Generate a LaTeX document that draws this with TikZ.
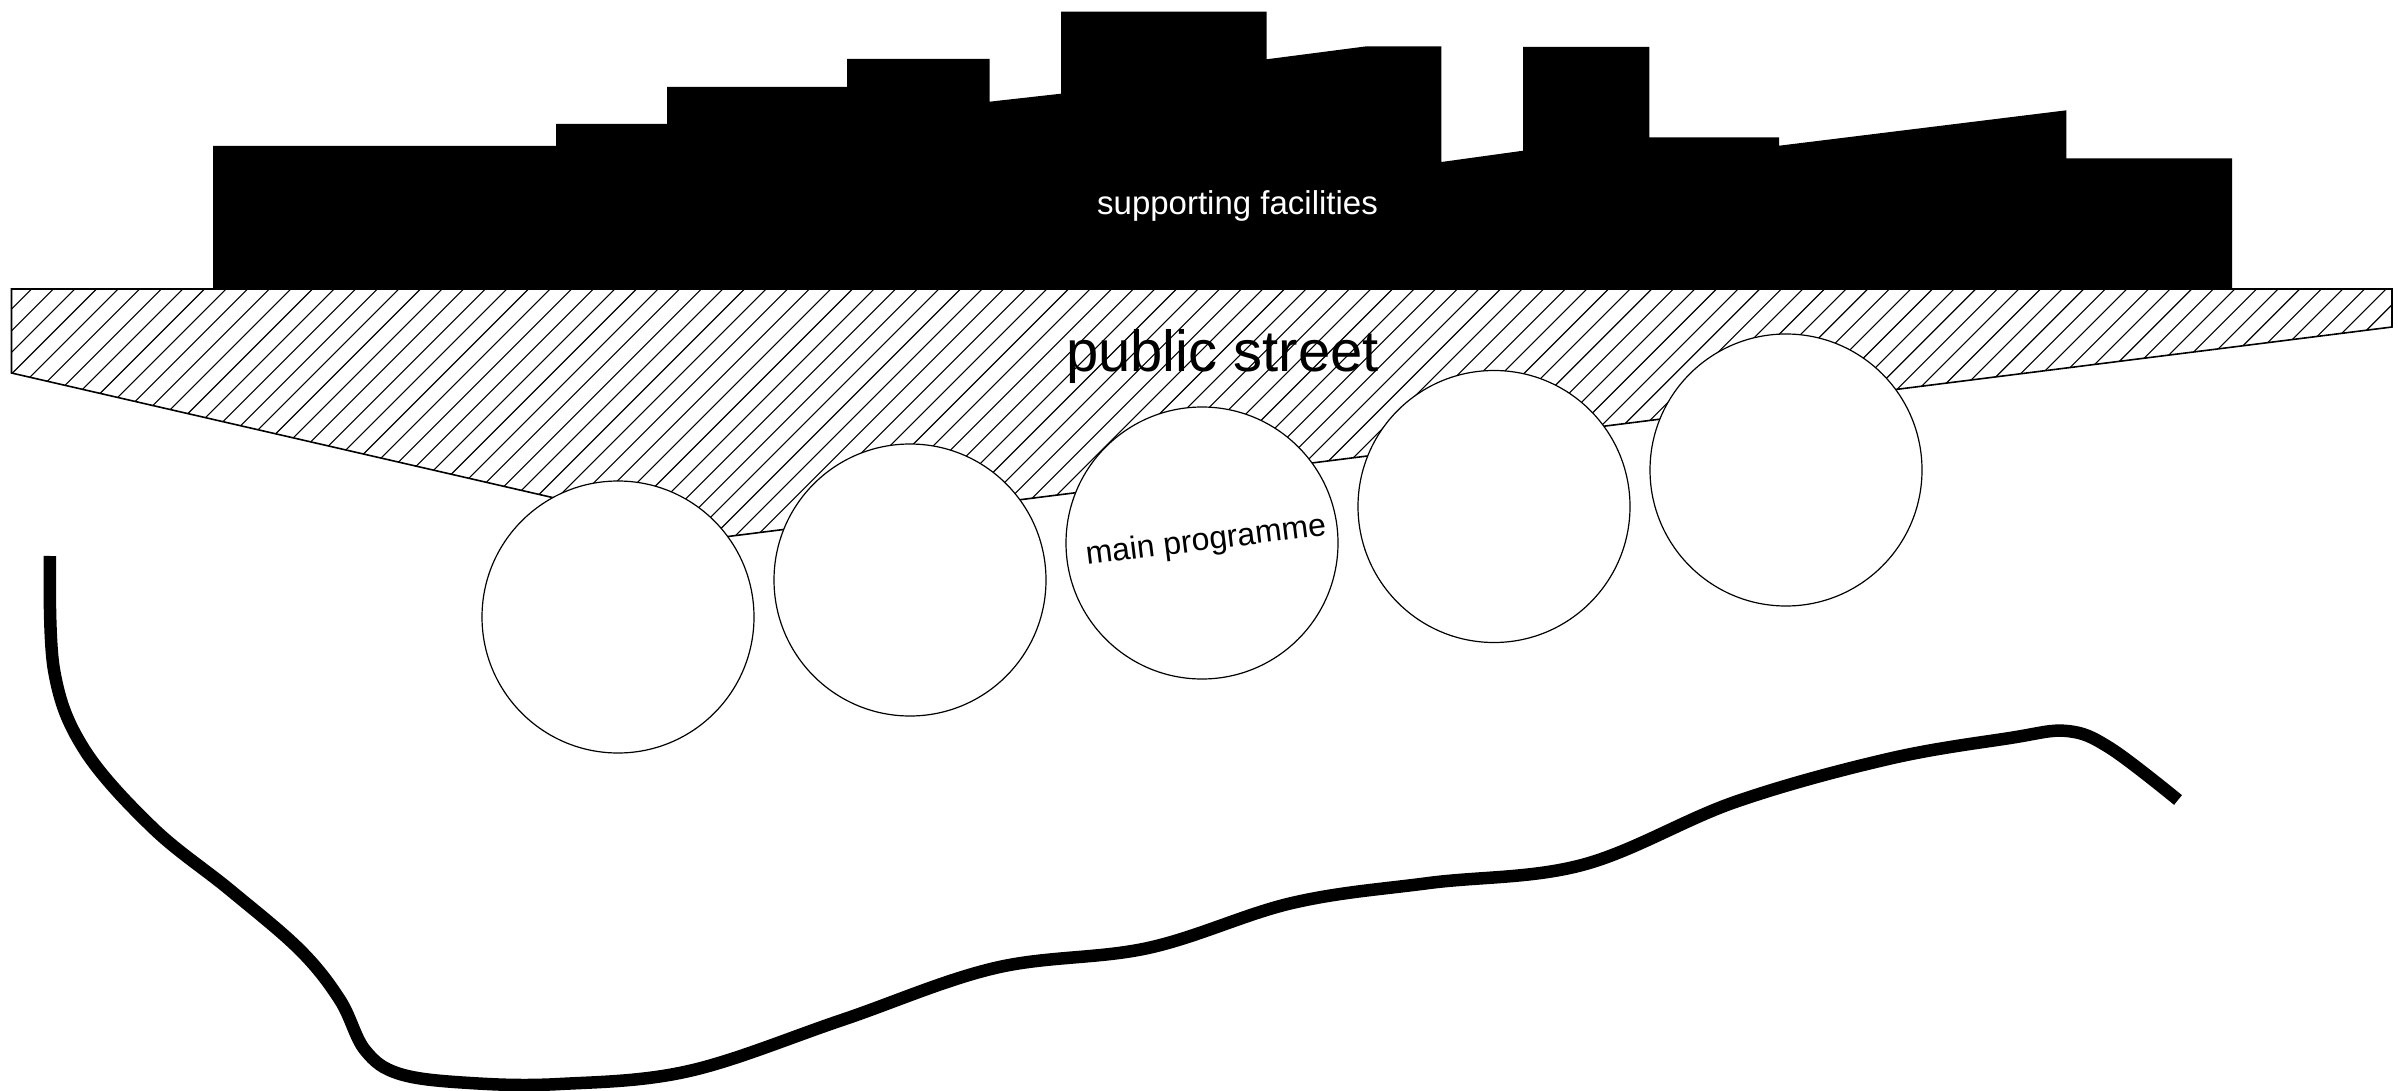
\documentclass[tikz,border=0pt]{standalone}
\usepackage{fontspec}
\setmainfont{Liberation Sans}
\begin{document}
\begin{tikzpicture}[x=0.5pt,y=-0.5pt,
  hatchline/.style={line width=0.55pt},
  streetline/.style={line width=0.8pt, line join=miter},
  progcircle/.style={circle, draw, line width=0.6pt, fill=white, minimum size=136pt, inner sep=0pt},
  river/.style={line width=6.25pt, line cap=butt, line join=round}]
\useasboundingbox (0,0) rectangle (2398,1091);
% supporting facilities skyline
\fill[black] (213,289) -- (213,146) -- (556,146) -- (556,124) -- (667,124) -- (667,87)
  -- (847,87) -- (847,59) -- (989.5,59) -- (989.5,101.7) -- (1061,93.7) -- (1061,11.7)
  -- (1266.5,11.7) -- (1266.5,59.3) -- (1366.6,46.3) -- (1441.4,46.3) -- (1441.4,162)
  -- (1523.2,150.7) -- (1523.2,47) -- (1649.3,47) -- (1649.3,137.3) -- (1779.2,137.3)
  -- (1779.2,145.7) -- (2066.4,110.3) -- (2066.4,158.3) -- (2232.2,158.3) -- (2232.2,289) -- cycle;
\node[white, font=\fontsize{16.5}{18}\selectfont, anchor=base] (facilities) at (1237.5,215) {supporting facilities};
% public street
\begin{scope}
\clip (11.5,289) -- (2392,289) -- (2392,327) -- (724,537) -- (11.5,373) -- cycle;
\foreach \k in {-2,...,122} \draw[hatchline] ({31.7+21.6*\k-270},{289+270}) -- ({31.7+21.6*\k+10},{289-10});
\end{scope}
\draw[streetline] (11.5,289) -- (2392,289) -- (2392,327) -- (724,537) -- (11.5,373) -- cycle;
\node[font=\fontsize{29}{30}\selectfont, anchor=base] (street) at (1222.5,371.7) {public street};
% programme circles
\node[progcircle] (c1) at (618,617) {};
\node[progcircle] (c2) at (910,580) {};
\node[progcircle] (c3) at (1202,543) {};
\node[progcircle] (c4) at (1494,506.5) {};
\node[progcircle] (c5) at (1786,470) {};
\node[font=\fontsize{16}{18}\selectfont, rotate=7.1, anchor=base] (prog) at (1207,550) {main programme};
% river
\draw[river] plot[smooth, tension=0.6] coordinates {
 (50,556) (54,670) (84,749) (153,828) (230,890) (300,950) (340,1000) (365,1050)
 (400,1074) (470,1083) (560,1084) (689,1071) (842,1020) (995,968) (1148,948)
 (1292,903) (1429,883) (1582,865) (1735,802) (1888,759) (2010,738) (2067,731)
 (2110,748) (2178,800)};
\end{tikzpicture}
\end{document}
